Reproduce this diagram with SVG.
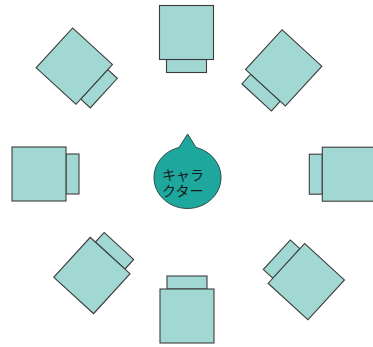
<svg xmlns="http://www.w3.org/2000/svg" xmlns:xlink="http://www.w3.org/1999/xlink" width="373" height="347" viewBox="0 0 373 347">
<style>
.desk{fill:#a2d8d4;stroke:#3c3c3c;stroke-width:1.1}
.chara{fill:#1ea89d;stroke:#2c4a47;stroke-width:1}
.lbl{font-family:"Noto Sans CJK JP","Noto Sans",sans-serif;font-size:14px;fill:#1a1a1a}
</style>
<defs>
<g id="unit">
<rect class="desk" x="-20" y="27" width="40" height="13"/>
<rect class="desk" x="-27" y="-27" width="54" height="54"/>
</g>
</defs>
<rect width="373" height="347" fill="#ffffff"/>
<g id="desk-top"><use xlink:href="#unit" transform="translate(186.5,32.5)"/></g>
<g id="desk-top-right"><use xlink:href="#unit" transform="translate(283.7,67.9) rotate(42.5)"/></g>
<g id="desk-right"><use xlink:href="#unit" transform="translate(349.3,174.2) rotate(90)"/></g>
<g id="desk-bottom-right"><use xlink:href="#unit" transform="translate(306.3,281.7) rotate(132.5)"/></g>
<g id="desk-bottom"><use xlink:href="#unit" transform="translate(187,316) rotate(180)"/></g>
<g id="desk-bottom-left"><use xlink:href="#unit" transform="translate(91.9,275.5) rotate(-137.5)"/></g>
<g id="desk-left"><use xlink:href="#unit" transform="translate(39,174) rotate(-90)"/></g>
<g id="desk-top-left"><use xlink:href="#unit" transform="translate(74.3,66.1) rotate(-47.5)"/></g>
<g id="character">
<path class="chara" d="M179 147.5 L187.7 134 L196 147.5 A33.5 31 0 1 1 179 147.5 Z"/>
<text class="lbl"><tspan x="162" y="180">キャラ</tspan><tspan x="162" y="195.5">クター</tspan></text>
</g>
</svg>
